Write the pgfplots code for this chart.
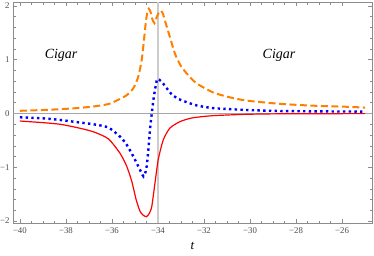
\documentclass[border=0pt]{standalone}
\usepackage{pgfplots}
\pgfplotsset{compat=1.18}
\usepackage{fontspec}
\setmainfont{Liberation Serif}
\definecolor{mmorange}{rgb}{1,0.5,0}
\definecolor{framegray}{gray}{0.55}
\definecolor{labgray}{gray}{0.3}
\begin{document}
\begin{tikzpicture}
\begin{axis}[
  scale only axis,
  width=359pt, height=221pt,
  xmin=-40.3, xmax=-24.7,
  ymin=-2.037, ymax=2.074,
  axis line style={framegray, line width=0.6pt},
  xtick={-40,-38,-36,-34,-32,-30,-28,-26},
  xticklabels={−40,−38,−36,−34,−32,−30,−28,−26},
  ytick={-2,-1,0,1,2},
  yticklabels={−2,−1,0,1,2},
  minor x tick num=3,
  minor y tick num=4,
  tick align=inside,
  major tick length=4pt,
  minor tick length=2.5pt,
  every tick/.style={framegray, line width=0.5pt},
  tick label style={font=\fontsize{8.8}{9}\selectfont, text=labgray},
  xticklabel style={yshift=-1pt},
  xlabel={\textit{t}},
  xlabel style={font=\fontsize{13}{14}\selectfont, at={(axis description cs:0.5,0)}, anchor=center, yshift=-23pt},
  clip=false,
]
\draw[gray!40, line width=1.6pt] (axis cs:-34,-2.037) -- (axis cs:-34,2.074);
\draw[gray!70, line width=0.6pt] (axis cs:-40.3,0) -- (axis cs:-24.7,0);

\addplot[mmorange, line width=2pt, dash pattern=on 7pt off 3.5pt, smooth, tension=0.4] coordinates {
(-40,0.05) (-39,0.065) (-38.26,0.08) (-37.54,0.10) (-36.81,0.13) (-36.16,0.175)
(-35.8,0.24) (-35.36,0.34) (-35.07,0.47) (-34.86,0.68) (-34.71,0.99) (-34.61,1.36)
(-34.52,1.73) (-34.45,1.90) (-34.4,1.95) (-34.33,1.90) (-34.25,1.76) (-34.15,1.68)
(-34.05,1.80) (-33.95,1.89) (-33.87,1.91) (-33.78,1.85) (-33.7,1.73) (-33.48,1.42)
(-33.26,1.11) (-33.0,0.88) (-32.68,0.71) (-32.32,0.56) (-31.6,0.39) (-30.87,0.30)
(-30.15,0.24) (-28.7,0.18) (-27.25,0.145) (-25.8,0.125) (-25,0.11)
};

\addplot[blue, line width=2.4pt, dash pattern=on 2.4pt off 3.3pt, smooth, tension=0.4] coordinates {
(-40,-0.07) (-39,-0.09) (-38.26,-0.12) (-37.54,-0.16) (-36.81,-0.20) (-36.16,-0.26)
(-35.65,-0.43) (-35.36,-0.58) (-35.07,-0.80) (-34.86,-0.98) (-34.72,-1.10) (-34.63,-1.17)
(-34.55,-1.10) (-34.49,-0.98) (-34.42,-0.68) (-34.35,-0.31) (-34.27,0.0) (-34.2,0.25)
(-34.13,0.44) (-34.03,0.64) (-33.84,0.59) (-33.62,0.47) (-33.41,0.36) (-33.19,0.29)
(-33.0,0.25) (-32.68,0.20) (-32.32,0.15) (-31.6,0.10) (-30.15,0.065) (-28.7,0.046)
(-27.25,0.04) (-25,0.035)
};

\addplot[red, line width=1.2pt, smooth, tension=0.4] coordinates {
(-40,-0.14) (-39,-0.17) (-38.26,-0.20) (-37.54,-0.26) (-36.81,-0.34) (-36.16,-0.47)
(-35.65,-0.74) (-35.36,-0.98) (-35.14,-1.26) (-34.95,-1.60) (-34.78,-1.82) (-34.65,-1.89)
(-34.5,-1.92) (-34.38,-1.86) (-34.27,-1.73) (-34.13,-1.29) (-33.99,-0.86) (-33.77,-0.49)
(-33.48,-0.27) (-33.04,-0.15) (-32.6,-0.09) (-32.32,-0.07) (-31.6,-0.04) (-30.15,-0.015)
(-28.7,-0.006) (-25,-0.002)
};

\node[font=\fontsize{14}{15}\selectfont\itshape] at (axis cs:-38.21,1.09) {Cigar};
\node[font=\fontsize{14}{15}\selectfont\itshape] at (axis cs:-28.74,1.09) {Cigar};
\end{axis}
\pgfresetboundingbox
\useasboundingbox ([shift={(-13pt,-32pt)}]current axis.south west) rectangle ([shift={(2pt,2pt)}]current axis.north east);
\end{tikzpicture}
\end{document}
